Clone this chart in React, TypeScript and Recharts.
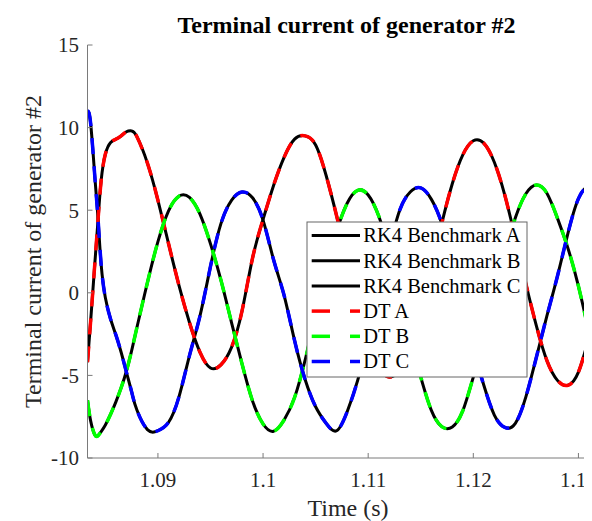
import { LineChart, Line, XAxis, YAxis } from 'recharts'

const times = [
  1.0833, 1.0836, 1.084, 1.0843, 1.0846, 1.085, 1.0855, 1.086, 1.0865, 1.087, 1.0875, 1.088,
  1.089, 1.09, 1.091, 1.092, 1.093, 1.094, 1.095, 1.096, 1.097, 1.098, 1.099, 1.1,
  1.101, 1.102, 1.103, 1.104, 1.105, 1.106, 1.107, 1.108, 1.109, 1.11, 1.111, 1.112,
  1.113, 1.114, 1.115, 1.116, 1.117, 1.118, 1.119, 1.12, 1.121, 1.122, 1.123, 1.124,
  1.125, 1.126, 1.127, 1.128, 1.129, 1.13, 1.131, 1.132, 1.133, 1.134, 1.135,
]

const phaseA = [
  -4.2, -1.7, 1.8, 4.4, 6.8, 8.4, 9.1, 9.3, 9.5, 9.75, 9.8, 9.45,
  7.85, 5.6, 3.0, 0.45, -1.8, -3.6, -4.55, -4.35, -3.3, -1.1, 2.1, 4.45,
  6.5, 8.2, 9.3, 9.5, 8.95, 7.1, 4.65, 1.95, -0.75, -3.0, -4.5, -5.1,
  -4.65, -3.3, -1.1, 1.5, 4.2, 6.6, 8.35, 9.2, 9.05, 7.9, 5.9, 3.3,
  0.55, -2.0, -4.1, -5.3, -5.6, -4.8, -2.7, -0.3, 2.3, 4.6, 6.6,
]

const phaseB = [
  -6.5, -7.75, -8.6, -8.65, -8.4, -8.0, -7.35, -6.6, -5.75, -4.75, -3.5, -2.1,
  0.62, 3.1, 4.95, 5.85, 5.77, 4.76, 2.96, 0.75, -1.8, -4.3, -6.55, -7.94,
  -8.38, -7.7, -6.33, -4.07, -1.39, 1.35, 3.72, 5.42, 6.2, 5.92, 4.65, 2.57,
  -0.02, -2.75, -5.1, -7.1, -8.1, -8.12, -7.14, -5.1, -2.92, -0.24, 2.35, 4.54,
  6.0, 6.53, 6.03, 4.52, 2.7, 0.4, -2.4, -5.1, -7.0, -8.0, -7.8,
]

const phaseC = [
  11.0, 10.25, 7.0, 4.5, 1.7, -0.3, -1.6, -2.55, -3.6, -4.8, -6.0, -7.1,
  -8.28, -8.35, -7.85, -6.3, -3.8, -1.4, 1.6, 4.2, 5.6, 6.1, 5.75, 4.4,
  2.0, -0.15, -2.9, -5.25, -6.9, -7.9, -8.35, -7.2, -5.3, -2.8, 0.0, 2.7,
  5.0, 6.1, 6.35, 5.67, 4.2, 1.9, -0.7, -3.35, -5.6, -7.4, -8.15, -7.9,
  -6.3, -3.9, -1.4, 1.0, 3.6, 5.7, 6.5, 6.55, 5.9, 4.3, 1.9,
]

const xTicks = [1.09, 1.1, 1.11, 1.12, 1.13]
const yTicks = [-10, -5, 0, 5, 10, 15]

const legendItems = [
  { label: 'RK4 Benchmark A', color: '#000000', dashed: false },
  { label: 'RK4 Benchmark B', color: '#000000', dashed: false },
  { label: 'RK4 Benchmark C', color: '#000000', dashed: false },
  { label: 'DT A', color: '#ff0000', dashed: true },
  { label: 'DT B', color: '#00ff00', dashed: true },
  { label: 'DT C', color: '#0000ff', dashed: true },
]

const data = times.map((t, i) => ({ t, a: phaseA[i], b: phaseB[i], c: phaseC[i] }))

const font = '"Liberation Serif", "Times New Roman", serif'
const axisGray = '#7a7a7a'
const tickStyle = { fill: '#262626', fontSize: 21, fontFamily: font }

export default function App() {
  return (
    <div
      style={{
        position: 'relative',
        width: 584,
        height: 513,
        overflow: 'hidden',
        background: '#fff',
        fontFamily: font,
      }}
    >
      <LineChart width={660} height={513} data={data} margin={{ top: 37, right: 37, left: 0, bottom: 0 }}>
        <XAxis
          dataKey="t"
          type="number"
          domain={[1.0833, 1.135]}
          allowDataOverflow
          ticks={xTicks}
          height={63}
          tickSize={-5}
          tickMargin={19}
          tick={tickStyle}
          stroke={axisGray}
          axisLine={{ stroke: axisGray }}
          tickLine={{ stroke: axisGray }}
        />
        <XAxis
          xAxisId="top"
          orientation="top"
          dataKey="t"
          type="number"
          domain={[1.0833, 1.135]}
          allowDataOverflow
          ticks={xTicks}
          height={0}
          tickSize={-5}
          tick={false}
          axisLine={{ stroke: axisGray }}
          tickLine={{ stroke: axisGray }}
        />
        <YAxis
          type="number"
          domain={[-10, 15]}
          ticks={yTicks}
          width={79.5}
          tickSize={-5}
          tickMargin={13.5}
          tick={tickStyle}
          axisLine={{ stroke: axisGray }}
          tickLine={{ stroke: axisGray }}
        />
        {['a', 'b', 'c'].map((k) => (
          <Line
            key={'rk' + k}
            dataKey={k}
            type="natural"
            stroke="#000000"
            strokeWidth={3}
            dot={false}
            isAnimationActive={false}
          />
        ))}
        {[
          ['a', '#ff0000'],
          ['b', '#00ff00'],
          ['c', '#0000ff'],
        ].map(([k, color]) => (
          <Line
            key={'dt' + k}
            dataKey={k}
            type="natural"
            stroke={color}
            strokeWidth={3.5}
            strokeDasharray="16 12"
            dot={false}
            isAnimationActive={false}
          />
        ))}
      </LineChart>

      <svg
        width={584}
        height={513}
        style={{ position: 'absolute', left: 0, top: 0, pointerEvents: 'none' }}
        fontFamily={font}
      >
        <text x={338.5} y={25} textAnchor="middle" fontSize={24} fontWeight="bold" fill="#000">
          Terminal current of generator #2
        </text>
        <text transform="translate(33, 243.5) rotate(-90)" textAnchor="middle" fontSize={24} fill="#262626">
          Terminal current of generator #2
        </text>
        <text x={340} y={508} textAnchor="middle" fontSize={24} fill="#262626">
          Time (s)
        </text>
        <g transform="translate(298, 213)">
          <rect x={1} y={1} width={220} height={155} fill="#fff" stroke="#666" strokeWidth={1} />
          {legendItems.map((item, i) => {
            const cy = 14.5 + i * 25.2
            return (
              <g key={item.label}>
                {item.dashed ? (
                  <>
                    <line x1={5.7} x2={24} y1={cy} y2={cy} stroke={item.color} strokeWidth={3.5} />
                    <line x1={44} x2={54} y1={cy} y2={cy} stroke={item.color} strokeWidth={3.5} />
                  </>
                ) : (
                  <line x1={5.7} x2={54} y1={cy} y2={cy} stroke={item.color} strokeWidth={3} />
                )}
                <text x={57.3} y={cy + 6.8} fontSize={20.5} fill="#000">
                  {item.label}
                </text>
              </g>
            )
          })}
        </g>
      </svg>
    </div>
  )
}
